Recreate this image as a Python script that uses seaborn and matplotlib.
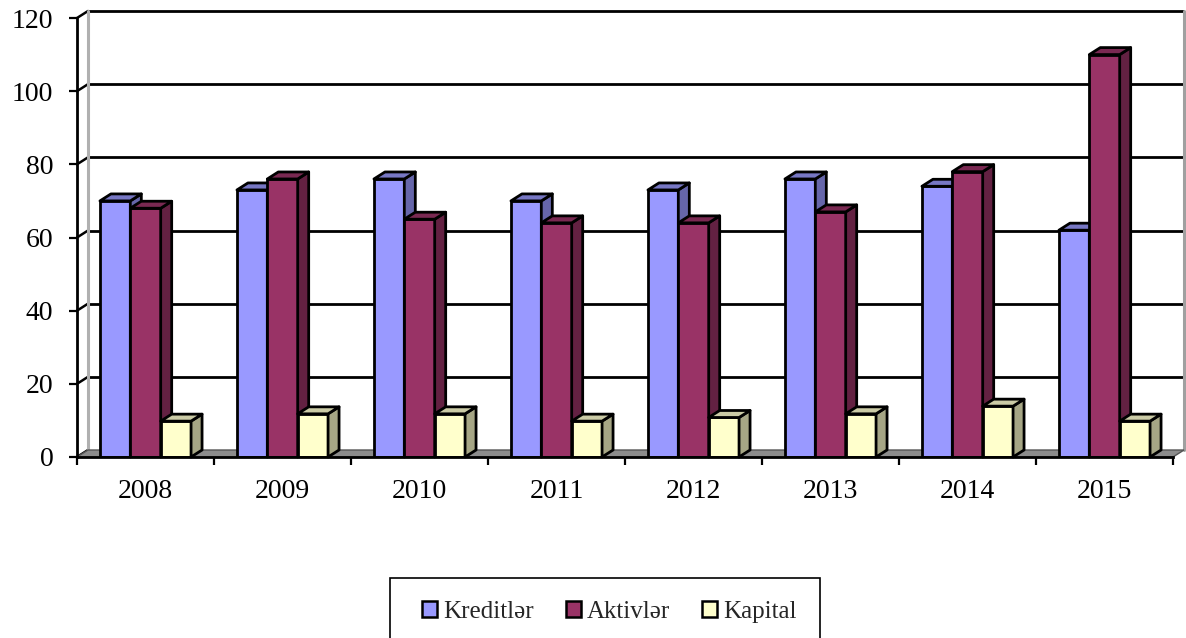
import numpy as np
import pandas as pd
import matplotlib
matplotlib.use("Agg")
import matplotlib.pyplot as plt
from matplotlib.patches import Polygon, Patch, Rectangle
import seaborn as sns

years = ["2008", "2009", "2010", "2011", "2012", "2013", "2014", "2015"]
series = ["Kreditlər", "Aktivlər", "Kapital"]
kreditler = [70, 73, 76, 70, 73, 76, 74, 62]
aktivler = [68, 76, 65, 64, 64, 67, 78, 110]
kapital = [9.8, 11.8, 11.8, 9.8, 10.8, 11.8, 13.9, 9.8]
y_ticks = [0, 20, 40, 60, 80, 100, 120]

front_colors = ["#9999FF", "#993366", "#FFFFCC"]
side_colors = ["#6666AA", "#632142", "#A6A685"]
top_colors = ["#7777C4", "#7A2952", "#CBCBA6"]

df = pd.DataFrame({
    "year": years * 3,
    "series": [s for s in series for _ in years],
    "value": kreditler + aktivler + kapital,
})

sns.set_theme(style="white")
plt.rcParams["font.family"] = ["Liberation Serif", "DejaVu Serif"]

W, H = 1186, 638
fig = plt.figure(figsize=(W / 100, H / 100), dpi=100)
ax = fig.add_axes([77 / W, (H - 457) / H, (1173 - 77) / W, (457 - 18) / H])

LW = 2.0
sns.barplot(data=df, x="year", y="value", hue="series", hue_order=series,
            order=years, palette=front_colors, width=0.665, gap=0,
            edgecolor="black", linewidth=LW, legend=False, ax=ax,
            saturation=1)

ax.set_xlim(-0.5, len(years) - 0.5)
ax.set_ylim(0, 120)

# depth offsets (data units)
dx = 11 / 137
dy = 7 / 3.66
x0, x1 = -0.5, len(years) - 0.5

# back wall and gridlines
for v in y_ticks:
    if v > 0:
        ax.plot([x0 + dx, x1 + dx], [v + dy, v + dy], color="black", lw=2.0,
                zorder=1, clip_on=False, solid_capstyle="butt")
    ax.plot([x0, x0 + dx], [v, v + dy], color="black", lw=1.8, zorder=1,
            clip_on=False)
ax.plot([x0 + dx, x0 + dx], [dy, 120 + dy], color="#b0b0b0", lw=2.2,
        zorder=1, clip_on=False)
ax.plot([x1 + dx, x1 + dx], [dy, 120 + dy], color="#a0a0a0", lw=2.2,
        zorder=1, clip_on=False)

# floor
floor = Polygon([(x0, 0), (x1, 0), (x1 + dx, dy), (x0 + dx, dy)],
                closed=True, facecolor="#8c8c8c", edgecolor="#555555",
                lw=1.0, zorder=1.5, clip_on=False)
ax.add_patch(floor)

# 3D sides and tops for bars
n = len(years)
bars = [p for p in ax.patches if p is not floor]
for i, p in enumerate(bars):
    h_idx = i // n
    z = 3 + h_idx
    p.set_zorder(z)
    bx0 = p.get_x()
    bx1 = bx0 + p.get_width()
    h = p.get_height()
    side = Polygon([(bx1, 0), (bx1 + dx, dy), (bx1 + dx, h + dy), (bx1, h)],
                   closed=True, facecolor=side_colors[h_idx],
                   edgecolor="black", lw=LW, zorder=z, clip_on=False,
                   joinstyle="round")
    top = Polygon([(bx0, h), (bx1, h), (bx1 + dx, h + dy), (bx0 + dx, h + dy)],
                  closed=True, facecolor=top_colors[h_idx],
                  edgecolor="black", lw=LW, zorder=z, clip_on=False,
                  joinstyle="round")
    ax.add_patch(side)
    ax.add_patch(top)

# axes styling
for s in ["top", "right"]:
    ax.spines[s].set_visible(False)
ax.spines["left"].set_color("black")
ax.spines["left"].set_linewidth(2.0)
ax.spines["bottom"].set_color("black")
ax.spines["bottom"].set_linewidth(2.0)
ax.spines["left"].set_zorder(6)
ax.spines["bottom"].set_zorder(6)

ax.set_yticks(y_ticks)
ax.set_yticklabels([str(v) for v in y_ticks])
ax.tick_params(axis="y", left=True, length=6, width=1.6, pad=11,
               labelsize=20, colors="black")
ax.set_xticks(range(n))
ax.set_xticklabels(years)
ax.tick_params(axis="x", which="major", bottom=False, length=0, pad=16,
               labelsize=20, colors="black")
ax.set_xticks(np.arange(n + 1) - 0.5, minor=True)
ax.tick_params(axis="x", which="minor", bottom=True, length=6, width=1.6,
               color="black")
ax.set_xlabel("")
ax.set_ylabel("")
ax.grid(False)
ax.set_facecolor("none")

# legend box (extends past the bottom edge as in the reference)
fig.patches.append(Rectangle((390 / W, -0.05), 430 / W, (H - 578) / H + 0.05,
                             transform=fig.transFigure, fill=False,
                             edgecolor="black", lw=1.2))
handles = [Patch(facecolor=c, edgecolor="black", lw=1.8) for c in front_colors]
leg = fig.legend(handles, series, loc="center left",
                 bbox_to_anchor=(422 / W, 1 - 612 / H),
                 ncol=3, frameon=False, borderpad=0.0, borderaxespad=0.0,
                 handlelength=0.6, handleheight=0.6, handletextpad=0.24,
                 columnspacing=1.28,
                 prop={"size": 18, "family": "Liberation Serif"})

fig.savefig("out.png", dpi=100, facecolor="white")
